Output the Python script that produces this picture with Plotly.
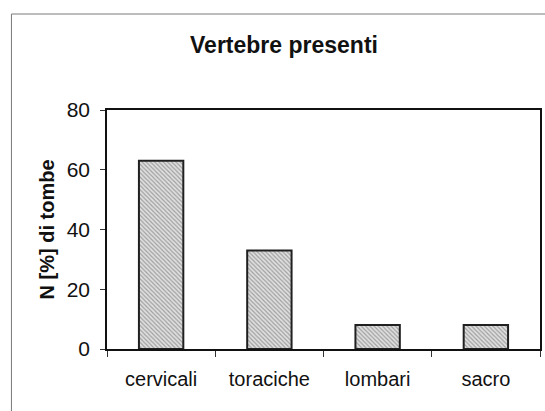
import plotly.graph_objects as go

categories = ["cervicali", "toraciche", "lombari", "sacro"]
values = [63, 33, 8, 8]
y_ticks = [0, 20, 40, 60, 80]

FONT = "Liberation Sans, Arial, sans-serif"

# plot area in pixels: x 107..542, y 110..349
L, R, T, B = 107, 3, 110, 62
W, H = 545, 411
pw, ph = W - L - R, H - T - B

fig = go.Figure(
    go.Bar(
        x=categories,
        y=values,
        width=0.41,
        marker=dict(
            color="#d0d0d0",
            line=dict(color="#202020", width=2),
            pattern=dict(shape="\\", fgcolor="#5e5e5e", bgcolor="#e0e0e0",
                         size=3, solidity=0.4),
        ),
        hoverinfo="skip",
    )
)

fig.update_layout(
    width=W,
    height=H,
    margin=dict(l=L, r=R, t=T, b=B),
    paper_bgcolor="white",
    plot_bgcolor="white",
    showlegend=False,
    font=dict(family=FONT, color="#111111"),
    title=dict(
        text="<b>Vertebre presenti</b>",
        x=284 / W,
        xanchor="center",
        y=1 - 45 / H,
        yanchor="middle",
        font=dict(size=23, family=FONT, color="#111111"),
    ),
    xaxis=dict(
        type="category",
        showline=True,
        linecolor="#111111",
        linewidth=1.5,
        mirror=True,
        ticks="outside",
        tickson="boundaries",
        ticklen=6,
        tickcolor="#333333",
        showgrid=False,
        ticklabelstandoff=11,
        tickfont=dict(size=20, family=FONT, color="#111111"),
    ),
    yaxis=dict(
        range=[0, 80],
        tickvals=y_ticks,
        showline=True,
        linecolor="#111111",
        linewidth=1.5,
        mirror=True,
        ticks="outside",
        ticklen=5,
        tickcolor="#333333",
        showgrid=False,
        zeroline=False,
        ticklabelstandoff=6,
        tickfont=dict(size=21, family=FONT, color="#111111"),
        title=dict(
            text="<b>N [%] di tombe</b>",
            font=dict(size=20, family=FONT, color="#111111"),
            standoff=7,
        ),
    ),
)

# outer frame around the chart area
fig.add_shape(
    type="rect",
    xref="paper", yref="paper",
    x0=(11 - L) / pw, x1=(560 - L) / pw,
    y0=(H - B - 430) / ph, y1=(H - B - 14) / ph,
    line=dict(color="#7a7a7a", width=1),
    fillcolor="rgba(0,0,0,0)",
    layer="below",
)

fig.write_html("out.html")
